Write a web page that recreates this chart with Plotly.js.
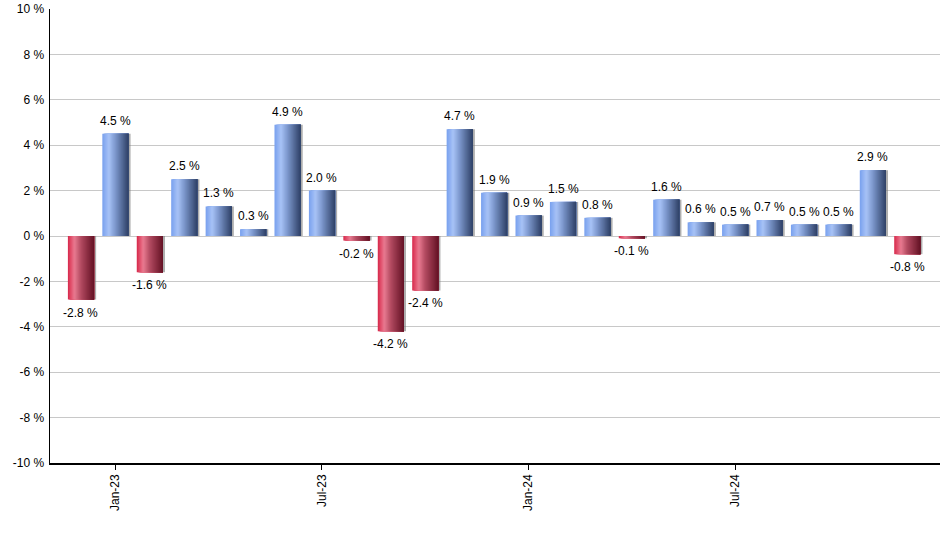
<!DOCTYPE html>
<html>
<head>
<meta charset="utf-8">
<script src="https://cdn.plot.ly/plotly-3.0.1.min.js"></script>
<style>html,body{margin:0;padding:0;background:#fff;}#chart{width:940px;height:550px;}</style>
</head>
<body>
<div id="chart"></div>
<script>
// Data (monthly returns, %)
const months = ['Dec-22','Jan-23','Feb-23','Mar-23','Apr-23','May-23','Jun-23','Jul-23','Aug-23','Sep-23','Oct-23','Nov-23','Dec-23',
                'Jan-24','Feb-24','Mar-24','Apr-24','May-24','Jun-24','Jul-24','Aug-24','Sep-24','Oct-24','Nov-24','Dec-24'];
const returns = [-2.8, 4.5, -1.6, 2.5, 1.3, 0.3, 4.9, 2.0, -0.2, -4.2, -2.4, 4.7, 1.9,
                 0.9, 1.5, 0.8, -0.1, 1.6, 0.6, 0.5, 0.7, 0.5, 0.5, 2.9, -0.8];
const tickLabels = ['Jan-23','Jul-23','Jan-24','Jul-24'];
const tickMonths = ['Jan-23','Jul-23','Jan-24','Jul-24'];
const yTickVals = [-10,-8,-6,-4,-2,0,2,4,6,8,10];

const xIdx = months.map((m,i)=>i);
const tickVals = tickMonths.map(m => months.indexOf(m));

// gradient helpers (style only)
function hex(c){return [parseInt(c.slice(1,3),16),parseInt(c.slice(3,5),16),parseInt(c.slice(5,7),16)];}
function mix(a,b,t){const A=hex(a),B=hex(b);return 'rgb('+A.map((v,i)=>Math.round(v+(B[i]-v)*t)).join(',')+')';}
function grad(stops,t){
  for(let i=0;i<stops.length-1;i++){
    if(t<=stops[i+1][0]){const s=(t-stops[i][0])/(stops[i+1][0]-stops[i][0]);return mix(stops[i][1],stops[i+1][1],s);}
  }
  const l=stops[stops.length-1][1];return mix(l,l,0);
}
const blueStops=[[0,'#78a0ee'],[0.25,'#a8c3f6'],[0.5,'#7c97cc'],[1,'#2e4066']];
const redStops=[[0,'#d8284a'],[0.25,'#e97b91'],[0.5,'#b24a60'],[1,'#641224']];

const W = 0.76, N = 24;
const traces = [];
// shadow
traces.push({type:'bar', x:xIdx, y:returns, width:W, offset:-W/2+0.06,
  marker:{color:'rgba(120,120,120,0.6)', line:{width:0}}, hoverinfo:'skip', showlegend:false});
for(let k=0;k<N;k++){
  const t=(k+0.5)/N;
  const cols = returns.map(v => v>=0 ? grad(blueStops,t) : grad(redStops,t));
  traces.push({type:'bar', x:xIdx, y:returns, width:W - k*W/N, offset:-W/2+k*W/N,
    marker:{color:cols, line:{width:0}}, hoverinfo:'skip', showlegend:false});
}

const annotations = returns.map((v,i)=>({
  x:xIdx[i], y:v, text:v.toFixed(1)+' %', showarrow:false,
  yshift: v>=0 ? 13 : -13, yanchor:'middle', xanchor:'center',
  font:{family:'Liberation Sans, Arial, sans-serif', size:12, color:'#000'}
}));

const layout = {
  width:940, height:550,
  margin:{l:50, r:0, t:9, b:87},
  paper_bgcolor:'#fff', plot_bgcolor:'#fff',
  barmode:'overlay', showlegend:false, hovermode:false,
  font:{family:'Liberation Sans, Arial, sans-serif', size:12, color:'#000'},
  annotations: annotations,
  xaxis:{range:[-0.9,24.95], tickmode:'array', tickvals:tickVals, ticktext:tickLabels,
    tickangle:-90, ticks:'outside', ticklen:5, tickcolor:'#000', showgrid:false, zeroline:false,
    showline:true, linecolor:'#000', linewidth:1.5, tickfont:{size:12, color:'#000'}, fixedrange:true},
  yaxis:{range:[-10,10], tickmode:'array', tickvals:yTickVals, ticktext:yTickVals.map(v=>v+' %'),
    showgrid:true, gridcolor:'#c8c8c8', gridwidth:1, zeroline:true, zerolinecolor:'#c8c8c8', zerolinewidth:1,
    showline:true, linecolor:'#000', linewidth:1.5, ticks:'', ticklabelstandoff:2, tickfont:{size:12, color:'#000'}, fixedrange:true}
};
Plotly.newPlot('chart', traces, layout, {displayModeBar:false, staticPlot:true});
</script>
</body>
</html>
